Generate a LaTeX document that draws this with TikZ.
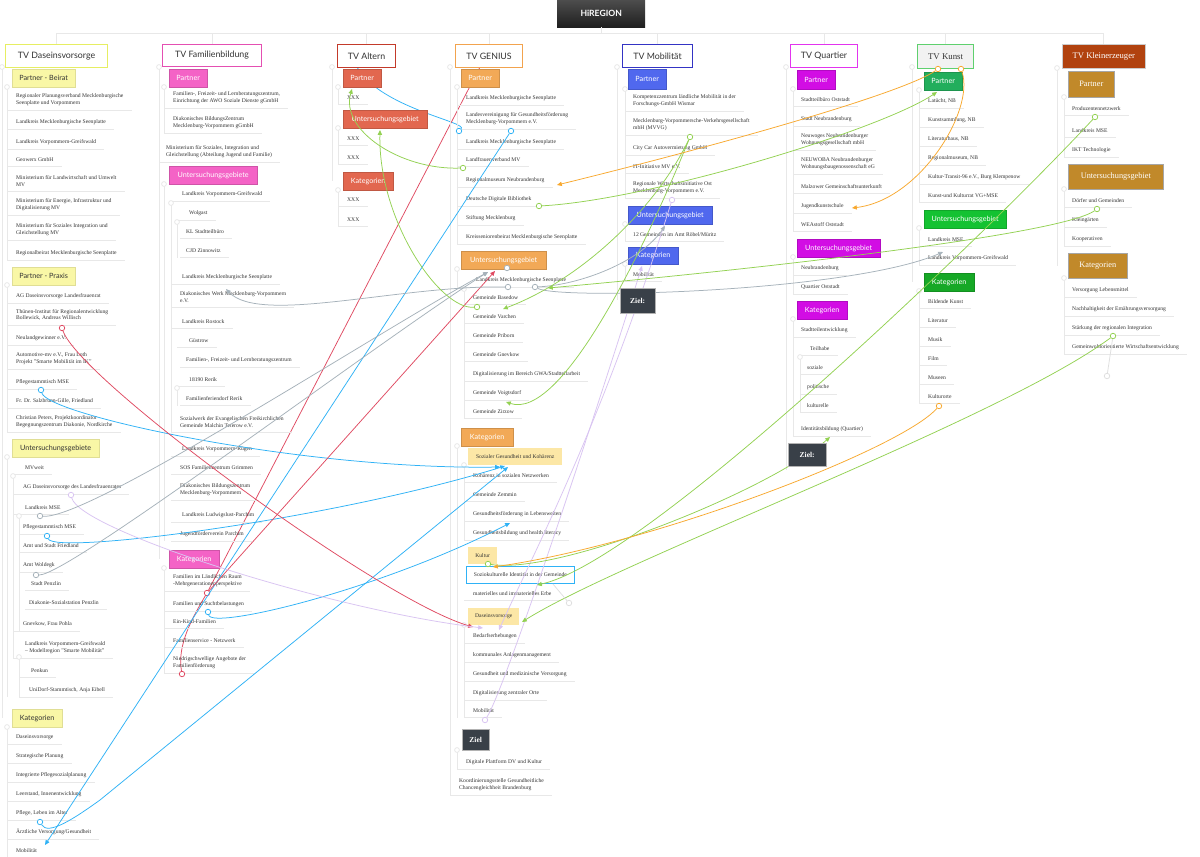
\documentclass[tikz,border=0pt]{standalone}
\usepackage{fontspec}
\setmainfont{Liberation Serif}
\newfontfamily\hdfont{Lato}
\usetikzlibrary{arrows.meta}
\pgfdeclarelayer{bg}
\pgfdeclarelayer{top}
\pgfsetlayers{bg,main,top}
\definecolor{cDas}{HTML}{E6EE62}
\definecolor{cDasF}{HTML}{F9F7A6}
\definecolor{cFam}{HTML}{E44FB2}
\definecolor{cFamF}{HTML}{F463C6}
\definecolor{cAlt}{HTML}{C33A2A}
\definecolor{cAltF}{HTML}{E2674F}
\definecolor{cGen}{HTML}{F2A34E}
\definecolor{cGenF}{HTML}{F2A957}
\definecolor{cMob}{HTML}{3434C4}
\definecolor{cMobF}{HTML}{5068EE}
\definecolor{cQua}{HTML}{E234EE}
\definecolor{cQuaF}{HTML}{D20DE4}
\definecolor{cKun}{HTML}{5FD06E}
\definecolor{cKunP}{HTML}{22AE5C}
\definecolor{cKunU}{HTML}{14C232}
\definecolor{cKunK}{HTML}{16A826}
\definecolor{cKle}{HTML}{B1420F}
\definecolor{cKleF}{HTML}{C1892A}
\definecolor{cHi}{HTML}{FCE7A6}
\definecolor{cZiel}{HTML}{394048}
\definecolor{cTree}{HTML}{E8E8E8}
\definecolor{lBlue}{HTML}{2FB2F6}
\definecolor{lRed}{HTML}{E04A62}
\definecolor{lGreen}{HTML}{93D152}
\definecolor{lGray}{HTML}{A6B2BA}
\definecolor{lOrange}{HTML}{F8A82E}
\definecolor{lPurple}{HTML}{D9C4F2}
\definecolor{txt}{HTML}{333333}
\tikzset{
  tree/.style={draw=cTree, line width=0.8pt},
  itm/.style={anchor=west, inner xsep=0pt, inner ysep=4.6pt, font=\fontsize{5.6}{6.8}\selectfont, text=txt, align=left},
  hdr/.style={draw=#1, line width=1.1pt, fill=white, anchor=north west, font=\hdfont\fontsize{8.8}{10}\selectfont, text=txt, inner sep=0pt},
  sec/.style={fill=#1, draw=#1!85!black, line width=0.4pt, anchor=north west, font=\hdfont\fontsize{7.2}{8}\selectfont, text=white, inner sep=0pt},
  secy/.style={fill=cDasF, draw=cDasF!90!black, line width=0.4pt, anchor=north west, font=\hdfont\fontsize{7.2}{8}\selectfont, text=txt, inner sep=0pt},
  seck/.style={fill=cKleF, draw=gray!70, line width=0.6pt, anchor=north west, font=\fontsize{8.3}{9}\selectfont, text=white, inner sep=0pt},
  hil/.style={fill=cHi, anchor=north west, inner sep=0pt, font=\fontsize{5.6}{6.8}\selectfont, text=txt},
  ziel/.style={fill=cZiel, draw=gray!60, line width=0.4pt, anchor=north west, inner sep=0pt, font=\bfseries\fontsize{7.5}{8}\selectfont, text=white},
  conn/.style={draw=#1, line width=0.75pt},
  arr/.style={-{Triangle[length=4.8pt,width=4.2pt]}},
  cdot/.style={circle, draw=#1, fill=white, line width=0.75pt, inner sep=0pt, minimum size=5.5pt},
}
\newcommand\mmitem[5]{%
  \node[itm] (#1) at (#3,#4) {#5};
  \draw[tree] (#2,0 |- #1.south) -- ([xshift=8pt]#1.south east);%
}
\newcommand\mmsec[3]{%
  \draw[tree] (#1,#2) -- (#1,0 |- #3.south);
  \draw[tree,fill=white] (#1,#2) circle[radius=2.4pt];%
}
\newcommand\mmcol[3]{%
  \draw[tree] (#1,#2) -- (#1,#3);
  \draw[tree,fill=white] (#1,#2) circle[radius=2.4pt];%
}
\begin{document}
\begin{tikzpicture}[x=1pt,y=-1pt]
\begin{pgfonlayer}{bg}
\fill[white] (0,0) rectangle (1200,857);
\end{pgfonlayer}
\useasboundingbox (0,0) rectangle (1200,857);

% ---------------- title and headers
\node[top color=black!70, bottom color=black!88, anchor=north west, inner sep=0pt,
      minimum width=88, minimum height=27, text=white,
      font=\hdfont\bfseries\fontsize{8.6}{10}\selectfont] (hi) at (557,0) {HiREGION};
\node[hdr=cDas, minimum width=102, minimum height=23] (hDas) at (5,44) {TV Daseinsvorsorge};
\node[hdr=cFam, minimum width=99, minimum height=22] (hFam) at (162,44) {TV Familienbildung};
\node[hdr=cAlt, minimum width=58, minimum height=23] (hAlt) at (337,44) {TV Altern};
\node[hdr=cGen, minimum width=67, minimum height=23] (hGen) at (455,44) {TV GENIUS};
\node[hdr=cMob, minimum width=70, minimum height=23] (hMob) at (622,44) {TV Mobilität};
\node[hdr=cQua, minimum width=67, minimum height=23] (hQua) at (790,44) {TV Quartier};
\node[hdr=cKun, fill=black!5, font=\fontsize{8.8}{10}\selectfont, minimum width=56, minimum height=24] (hKun) at (917,44) {TV Kunst};
\node[hdr=gray!40, fill=cKle, text=white, line width=0.6pt, font=\fontsize{8.6}{10}\selectfont, minimum width=83, minimum height=24] (hKle) at (1062,44) {TV Kleinerzeuger};

\draw[tree] (hDas.north |- 0,33) -- (hKle.north |- 0,33);
\draw[tree] (hi.south) -- (hi.south |- 0,33);
\foreach \h in {hDas,hFam,hAlt,hGen,hMob,hQua,hKun,hKle}
  \draw[tree] (\h.north) -- (\h.north |- 0,33);

% ---------------- TV Daseinsvorsorge
\node[secy, minimum width=63, minimum height=18] (dsB) at (12,69) {Partner - Beirat};
\mmitem{d1}{7}{16}{100}{Regionaler Planungsverband Mecklenburgische\\Seenplatte und Vorpommern}
\mmitem{d2}{7}{16}{122}{Landkreis Mecklenburgische Seenplatte}
\mmitem{d3}{7}{16}{142}{Landkreis Vorpommern-Greifswald}
\mmitem{d4}{7}{16}{160}{Geowerx GmbH}
\mmitem{d5}{7}{16}{181}{Ministerium für Landwirtschaft und Umwelt\\MV}
\mmitem{d6}{7}{16}{205}{Ministerium für Energie, Infrastruktur und\\Digitalisierung MV}
\mmitem{d7}{7}{16}{230}{Ministerium für Soziales Integration und\\Gleichstellung MV}
\mmitem{d8}{7}{16}{253}{Regionalbeirat Mecklenburgische Seenplatte}
\mmsec{7}{87}{d8}
\node[secy, minimum width=63, minimum height=18] (dsP) at (12,267) {Partner - Praxis};
\mmitem{d9}{7}{16}{296}{AG Daseinsvorsorge Landesfrauenrat}
\mmitem{d10}{7}{16}{315}{Thünen-Institut für Regionalentwicklung\\Bollewick, Andreas Willisch}
\mmitem{d11}{7}{16}{338}{Neulandgewinner e.V.}
\mmitem{d12}{7}{16}{359}{Automotive-mv e.V., Frau Loth\\Projekt "Smarte Mobilität im IK"}
\mmitem{d13}{7}{16}{382}{Pflegestammtisch MSE}
\mmitem{d14}{7}{16}{401}{Fr. Dr. Salzbrunn-Gille, Friedland}
\mmitem{d15}{7}{16}{422}{Christian Peters, Projektkoordinator\\Begegnungszentrum Diakonie, Nordkirche}
\mmsec{7}{285}{d15}
\node[secy, minimum width=87, minimum height=18] (dsU) at (12,439) {Untersuchungsgebiete};
\mmitem{d16}{13}{25}{468}{MVweit}
\mmitem{d17}{13}{23}{487}{AG Daseinsvorsorge des Landesfrauenrates}
\mmitem{d18}{13}{25}{508}{Landkreis MSE}
\mmitem{d19}{19}{23}{527}{Pflegestammtisch MSE}
\mmitem{d20}{19}{23}{546}{Amt und Stadt Friedland}
\mmitem{d21}{19}{23}{565}{Amt Woldegk}
\mmitem{d22}{25}{31}{584}{Stadt Penzlin}
\mmitem{d23}{25}{29}{603}{Diakonie-Sozialstation Penzlin}
\mmitem{d24}{13}{23}{624}{Gnevkow, Frau Pohla}
\mmitem{d25}{13}{25}{648}{Landkreis Vorpommern-Greifswald\\– Modellregion "Smarte Mobilität"}
\mmitem{d26}{19}{31}{671}{Penkun}
\mmitem{d27}{19}{29}{690}{UniDorf-Stammtisch, Anja Eibell}
\mmsec{7}{457}{d27}
\mmsec{13}{476}{d25}
\mmsec{19}{516}{d24}
\mmsec{19}{657}{d27}
\node[secy, minimum width=50, minimum height=18] (dsK) at (12,709) {Kategorien};
\mmitem{d28}{7}{16}{737}{Daseinsvorsorge}
\mmitem{d29}{7}{16}{756}{Strategische Planung}
\mmitem{d30}{7}{16}{775}{Integrierte Pflegesozialplanung}
\mmitem{d31}{7}{16}{794}{Leerstand, Innenentwicklung}
\mmitem{d32}{7}{16}{813}{Pflege, Leben im Alter}
\mmitem{d33}{7}{16}{832}{Ärztliche Versorgung/Gesundheit}
\mmitem{d34}{7}{16}{851}{Mobilität}
\mmsec{7}{727}{d34}
\mmcol{2}{67}{718}

% ---------------- TV Familienbildung
\node[sec=cFamF, minimum width=38, minimum height=18] (fsP) at (169,69) {Partner};
\mmitem{f1}{164}{173}{98}{Familien-, Freizeit- und Lernberatungszentrum,\\Einrichtung der AWO Soziale Dienste gGmbH}
\mmitem{f2}{164}{173}{123}{Diakonisches BildungsZentrum\\Mecklenburg-Vorpommern gGmbH}
\mmitem{f3}{159}{166}{152}{Ministerium für Soziales, Integration und\\Gleichstellung (Abteilung Jugend und Familie)}
\mmsec{164}{87}{f2}
\node[sec=cFamF, minimum width=88, minimum height=18] (fsU) at (169,166) {Untersuchungsgebiete};
\mmitem{f4}{171}{182}{194}{Landkreis Vorpommern-Greifswald}
\mmitem{f5}{177}{189}{213}{Wolgast}
\mmitem{f6}{180}{186}{232}{KL Stadtteilbüro}
\mmitem{f7}{180}{186}{251}{CJD Zinnowitz}
\mmitem{f8}{171}{182}{277}{Landkreis Mecklenburgische Seenplatte}
\mmitem{f9}{171}{180}{297}{Diakonisches Werk Mecklenburg-Vorpommern\\e.V.}
\mmitem{f10}{171}{182}{322}{Landkreis Rostock}
\mmitem{f11}{177}{189}{341}{Güstrow}
\mmitem{f12}{180}{186}{360}{Familien-, Freizeit- und Lernberatungszentrum}
\mmitem{f13}{177}{189}{380}{18190 Rerik}
\mmitem{f14}{180}{186}{399}{Familienferiendorf Rerik}
\mmitem{f15}{171}{180}{422}{Sozialwerk der Evangelischen Freikirchlichen\\Gemeinde Malchin Teterow e.V.}
\mmitem{f16}{171}{182}{449}{Landkreis Vorpommern-Rügen}
\mmitem{f17}{171}{180}{468}{SOS Familienzentrum Grimmen}
\mmitem{f18}{171}{180}{490}{Diakonisches Bildungszentrum\\Mecklenburg-Vorpommern}
\mmitem{f19}{171}{182}{515}{Landkreis Ludwigslust-Parchim}
\mmitem{f20}{171}{180}{534}{Jugendförderverein Parchim}
\mmsec{164}{184}{f20}
\mmsec{171}{203}{f15}
\mmsec{177}{222}{f7}
\mmsec{177}{388}{f14}
\node[sec=cFamF, minimum width=50, minimum height=18] (fsK) at (169,550) {Kategorien};
\mmitem{f21}{164}{173}{581}{Familien im Ländlichen Raum\\-Mehrgenerationenperspektive}
\mmitem{f22}{164}{173}{604}{Familien und Suchtbelastungen}
\mmitem{f23}{164}{173}{622}{Ein-Kind-Familien}
\mmitem{f24}{164}{173}{641}{Familienservice - Netzwerk}
\mmitem{f25}{164}{173}{663}{Niedrigschwellige Angebote der\\Familienförderung}
\mmsec{164}{568}{f25}
\mmcol{159}{67}{559}

% ---------------- TV Altern
\node[sec=cAltF, minimum width=38, minimum height=18] (asP) at (343,69) {Partner};
\mmitem{a1}{338}{347}{98}{XXX}
\mmsec{338}{87}{a1}
\node[sec=cAltF, minimum width=84, minimum height=18] (asU) at (343,110) {Untersuchungsgebiet};
\mmitem{a2}{338}{347}{139}{XXX}
\mmitem{a3}{338}{347}{158}{XXX}
\mmsec{338}{128}{a3}
\node[sec=cAltF, minimum width=50, minimum height=18] (asK) at (343,172) {Kategorien};
\mmitem{a4}{338}{347}{200}{XXX}
\mmitem{a5}{338}{347}{220}{XXX}
\mmsec{338}{190}{a5}
\mmcol{332}{67}{181}

% ---------------- TV GENIUS
\node[sec=cGenF, minimum width=38, minimum height=18] (gsP) at (461,69) {Partner};
\mmitem{g1}{457}{466}{98}{Landkreis Mecklenburgische Seenplatte}
\mmitem{g2}{457}{466}{119}{Landesvereinigung für Gesundheitsförderung\\Mecklenburg-Vorpommern e.V.}
\mmitem{g3}{457}{466}{142}{Landkreis Mecklenburgische Seenplatte}
\mmitem{g4}{457}{466}{160}{Landfrauenverband MV}
\mmitem{g5}{457}{466}{180}{Regionalmuseum Neubrandenburg}
\mmitem{g6}{457}{466}{199}{Deutsche Digitale Bibliothek}
\mmitem{g7}{457}{466}{218}{Stiftung Mecklenburg}
\mmitem{g8}{457}{466}{237}{Kreisseniorenbeirat Mecklenburgische Seenplatte}
\mmsec{457}{87}{g8}
\node[sec=cGenF, minimum width=85, minimum height=18] (gsU) at (461,251) {Untersuchungsgebiet};
\mmitem{g9}{457}{476}{280}{Landkreis Mecklenburgische Seenplatte}
\mmitem{g10}{464}{473}{298}{Gemeinde Basedow}
\mmitem{g11}{464}{473}{317}{Gemeinde Varchen}
\mmitem{g12}{464}{473}{336}{Gemeinde Priborn}
\mmitem{g13}{464}{473}{355}{Gemeinde Gnevkow}
\mmitem{g14}{464}{473}{374}{Digitalisierung im Bereich GWA/Stadtteilarbeit}
\mmitem{g15}{464}{473}{393}{Gemeinde Voigtsdorf}
\mmitem{g16}{464}{473}{412}{Gemeinde Zirzow}
\mmsec{457}{269}{g9}
\mmsec{464}{289}{g16}
\node[sec=cGenF, minimum width=52, minimum height=18] (gsK) at (461,428) {Kategorien};
\node[hil, minimum width=94, minimum height=17] (h1) at (468,448) {Sozialer Gesundheit und Kohärenz};
\mmitem{g17}{464}{473}{476}{Kohärenz in sozialen Netzwerken}
\mmitem{g18}{464}{473}{495}{Gemeinde Zemmin}
\mmitem{g19}{464}{473}{514}{Gesundheitsförderung in Lebenswelten}
\mmitem{g20}{464}{473}{533}{Gesundheitsbildung und health literacy}
\node[hil, minimum width=29, minimum height=17] (h2) at (468,547) {Kultur};
\node[hil, fill=white, draw=lBlue, line width=0.8pt, minimum width=108, minimum height=17] (h3) at (466,566) {Soziokulturelle Identität in der Gemeinde};
\mmitem{g21}{464}{473}{594}{materielles und immaterielles Erbe}
\node[hil, minimum width=51, minimum height=17] (h4) at (468,608) {Daseinsvorsorge};
\mmitem{g22}{464}{473}{636}{Bedarfserhebungen}
\mmitem{g23}{464}{473}{655}{kommunales Anlagenmanagement}
\mmitem{g24}{464}{473}{674}{Gesundheit und medizinische Versorgung}
\mmitem{g25}{464}{473}{693}{Digitalisierung zentraler Orte}
\mmitem{g26}{464}{473}{711}{Mobilität}
\mmsec{457}{446}{g26}
\mmsec{464}{465}{g20}
\mmsec{464}{625}{g26}
\mmitem{g27}{457}{466}{762}{Digitale Plattform DV und Kultur}
\mmitem{g28}{450}{459}{785}{Koordinierungsstelle Gesundheitliche\\Chancengleichheit Brandenburg}
\mmsec{457}{750}{g27}
\mmcol{450}{67}{795}

% ---------------- TV Mobilität
\node[sec=cMobF, minimum width=38, minimum height=20] (msP) at (628,69) {Partner};
\mmitem{m1}{625}{633}{101}{Kompetenzzentrum ländliche Mobilität in der\\Forschungs-GmbH Wismar}
\mmitem{m2}{625}{633}{125}{Mecklenburg-Vorpommersche-Verkehrsgesellschaft\\mbH (MVVG)}
\mmitem{m3}{625}{633}{148}{City Car Autovermietung GmbH}
\mmitem{m4}{625}{633}{167}{IT-Initiative MV e.V.}
\mmitem{m5}{625}{633}{188}{Regionale Wirtschaftsinitiative Ost\\Mecklenburg-Vorpommern e.V.}
\mmsec{625}{89}{m5}
\node[sec=cMobF, minimum width=84, minimum height=18] (msU) at (628,206) {Untersuchungsgebiet};
\mmitem{m6}{625}{633}{235}{12 Gemeinden im Amt Röbel/Müritz}
\mmsec{625}{224}{m6}
\node[sec=cMobF, minimum width=50, minimum height=17] (msK) at (628,247) {Kategorien};
\mmitem{m7}{625}{633}{275}{Mobilität}
\mmsec{625}{264}{m7}
\mmcol{617}{67}{300}

% ---------------- TV Quartier
\node[sec=cQuaF, minimum width=38, minimum height=19] (qsP) at (797,70) {Partner};
\mmitem{q1}{793}{801}{100}{Stadtteilbüro Oststadt}
\mmitem{q2}{793}{801}{119}{Stadt Neubrandenburg}
\mmitem{q3}{793}{801}{140}{Neuwoges Neubrandenburger\\Wohnungsgesellschaft mbH}
\mmitem{q4}{793}{801}{164}{NEUWOBA Neubrandenburger\\Wohnungsbaugenossenschaft eG}
\mmitem{q5}{793}{801}{187}{Malzower Gemeinschaftsunterkunft}
\mmitem{q6}{793}{801}{206}{Jugendkunstschule}
\mmitem{q7}{793}{801}{225}{WEAstoff Oststadt}
\mmsec{793}{89}{q7}
\node[sec=cQuaF, minimum width=83, minimum height=18] (qsU) at (797,239) {Untersuchungsgebiet};
\mmitem{q8}{793}{801}{268}{Neubrandenburg}
\mmitem{q9}{793}{801}{287}{Quartier Oststadt}
\mmsec{793}{257}{q9}
\node[sec=cQuaF, minimum width=50, minimum height=18] (qsK) at (797,301) {Kategorien};
\mmitem{q10}{793}{801}{330}{Stadtteilentwicklung}
\mmitem{q11}{800}{810}{349}{Teilhabe}
\mmitem{q12}{800}{807}{368}{soziale}
\mmitem{q13}{800}{807}{387}{politische}
\mmitem{q14}{800}{807}{406}{kulturelle}
\mmitem{q15}{793}{801}{429}{Identitätsbildung (Quartier)}
\mmsec{793}{319}{q15}
\mmsec{800}{357}{q14}
\mmcol{786}{67}{470}

% ---------------- TV Kunst
\node[sec=cKunP, minimum width=38, minimum height=18] (ksP) at (924,72) {Partner};
\mmitem{k1}{919}{928}{101}{Latücht, NB}
\mmitem{k2}{919}{928}{120}{Kunstsammlung, NB}
\mmitem{k3}{919}{928}{139}{Literaturhaus, NB}
\mmitem{k4}{919}{928}{158}{Regionalmuseum, NB}
\mmitem{k5}{919}{928}{177}{Kultur-Transit-96 e.V., Burg Klempenow}
\mmitem{k6}{919}{928}{196}{Kunst-und Kulturrat VG+MSE}
\mmsec{919}{90}{k6}
\node[sec=cKunU, minimum width=82, minimum height=18] (ksU) at (924,210) {Untersuchungsgebiet};
\mmitem{k7}{919}{928}{240}{Landkreis MSE}
\mmitem{k8}{919}{928}{258}{Landkreis Vorpommern-Greifswald}
\mmsec{919}{228}{k8}
\node[sec=cKunK, minimum width=50, minimum height=18] (ksK) at (924,273) {Kategorien};
\mmitem{k9}{919}{928}{302}{Bildende Kunst}
\mmitem{k10}{919}{928}{321}{Literatur}
\mmitem{k11}{919}{928}{340}{Musik}
\mmitem{k12}{919}{928}{359}{Film}
\mmitem{k13}{919}{928}{378}{Museen}
\mmitem{k14}{919}{928}{397}{Kulturorte}
\mmsec{919}{291}{k14}
\mmcol{912}{67}{282}

% ---------------- TV Kleinerzeuger
\node[seck, minimum width=46, minimum height=26] (esP) at (1068,71) {Partner};
\mmitem{e1}{1064}{1072}{109}{Produzentennetzwerk}
\mmitem{e2}{1064}{1072}{131}{Landkreis MSE}
\mmitem{e3}{1064}{1072}{150}{IKT Technologie}
\mmsec{1064}{97}{e3}
\node[seck, minimum width=95, minimum height=25] (esU) at (1068,164) {Untersuchungsgebiet};
\mmitem{e4}{1064}{1072}{201}{Dörfer und Gemeinden}
\mmitem{e5}{1064}{1072}{220}{Kleingärten}
\mmitem{e6}{1064}{1072}{239}{Kooperativen}
\mmsec{1064}{189}{e6}
\node[seck, minimum width=59, minimum height=25] (esK) at (1068,253) {Kategorien};
\mmitem{e7}{1064}{1072}{290}{Versorgung Lebensmittel}
\mmitem{e8}{1064}{1072}{309}{Nachhaltigkeit der Ernährungsversorgung}
\mmitem{e9}{1064}{1072}{328}{Stärkung der regionalen Integration}
\mmitem{e10}{1064}{1072}{347}{Gemeinwohlorientierte Wirtschaftsentwicklung}
\mmsec{1064}{278}{e10}
\mmcol{1057}{68}{266}

% ---------------- connector start dots
\node[cdot=lBlue] (cB1) at (459,131) {};
\node[cdot=lBlue] (cB2) at (511,131) {};
\node[cdot=lBlue] (cB3) at (41,390) {};
\node[cdot=lBlue] (cB4) at (47,536) {};
\node[cdot=lBlue] (cB5) at (208,612) {};
\node[cdot=lBlue] (cB6) at (40,822) {};
\node[cdot=lRed] (cR1) at (182,674) {};
\node[cdot=lRed] (cR2) at (207,593) {};
\node[cdot=lRed] (cR3) at (62,328) {};
\node[cdot=lPurple] (cP1) at (71,495) {};
\node[cdot=lPurple] (cP2) at (485,720) {};
\node[cdot=lPurple] (cP3) at (672,200) {};
\node[cdot=lGray] (cG1) at (40,516) {};
\node[cdot=lGray] (cG2) at (36,575) {};
\node[cdot=lGray] (cG3) at (508,287) {};
\node[cdot=lGray] (cG4) at (535,287) {};
\node[cdot=lGray] (cG6) at (507,268) {};
\node[cdot=lGreen] (cGr1) at (463,168) {};
\node[cdot=lGreen] (cGr2) at (477,307) {};
\node[cdot=lGreen] (cGr3) at (539,206) {};
\node[cdot=lGreen] (cGm) at (690,137) {};
\node[cdot=lGreen] (cGk) at (488,564) {};
\node[cdot=lGreen] (cGp) at (1095,117) {};
\node[cdot=lGreen] (cGs) at (1113,336) {};
\node[cdot=lGreen] (cGd) at (1097,209) {};
\node[cdot=lOrange] (cO1) at (938,69) {};
\node[cdot=lOrange] (cO2) at (961,69) {};
\node[cdot=lOrange] (cO3) at (939,406) {};
\node[cdot=gray!25] (cX1) at (1107,376) {};
\node[cdot=gray!25] (cX2) at (569,603) {};

% ---------------- connector end points
\coordinate (tB1) at (357,67);
\coordinate (tB2) at (45,845);
\coordinate (tB3) at (500,467);
\coordinate (tB4) at (505,466);
\coordinate (tB5) at (510,523);
\coordinate (tB6) at (508,467);
\coordinate (tR1) at (480,67);
\coordinate (tR2) at (495,271);
\coordinate (tR3) at (473,627);
\coordinate (tP1) at (483,628);
\coordinate (tP2) at (642,266);
\coordinate (tP3) at (499,630);
\coordinate (tG1) at (488,272);
\coordinate (tG3) at (226,289);
\coordinate (tG4) at (943,252);
\coordinate (tG5) at (665,226);
\coordinate (tGr1) at (352,89);
\coordinate (tGr2) at (380,130);
\coordinate (tGr3) at (937,92);
\coordinate (tGm1) at (503,309);
\coordinate (tGm2) at (506,402);
\coordinate (tGk) at (830,437);
\coordinate (tGp) at (537,585);
\coordinate (tGs) at (522,622);
\coordinate (tGd) at (548,288);
\coordinate (tO1) at (557,185);
\coordinate (tO2) at (852,208);
\coordinate (tO3) at (493,567);

% ---------------- connectors hidden under boxes
\begin{pgfonlayer}{bg}
\draw[conn=lBlue] (cB1) .. controls (468,122) and (380,108) .. (tB1);
\draw[conn=lRed] (cR1) .. controls (177,645) and (192,618) .. (cR2.center) -- (tR1);
\end{pgfonlayer}

% ---------------- connectors
\draw[conn=lBlue, arr] (cB2) -- (tB2);
\draw[conn=lBlue, arr] (cB3) .. controls (48,415) and (300,470) .. (tB3);
\draw[conn=lBlue, arr] (cB4) .. controls (55,555) and (330,520) .. (tB4);
\draw[conn=lBlue, arr] (cB5) .. controls (212,630) and (380,590) .. (tB5);
\draw[conn=lBlue, arr] (cB6) .. controls (48,836) and (75,818) .. (100,800) -- (tB6);
\draw[conn=lRed, arr] (cR2) -- (tR2);
\draw[conn=lRed, arr] (cR3) .. controls (80,380) and (380,600) .. (tR3);
\draw[conn=lPurple, arr] (cP1) .. controls (80,530) and (330,610) .. (tP1);
\draw[conn=lPurple, arr] (cP2) .. controls (505,690) and (600,400) .. (tP2);
\draw[conn=lPurple, arr] (cP3) .. controls (600,430) and (530,560) .. (tP3);
\draw[conn=lGray, arr] (cG1) .. controls (90,520) and (380,330) .. (tG1);
\draw[conn=lGray, arr] (cG2) .. controls (70,575) and (380,340) .. (tG1);
\draw[conn=lGray, arr] (cG3) .. controls (400,285) and (260,325) .. (tG3);
\draw[conn=lGray, arr] (cG4) .. controls (560,300) and (850,292) .. (tG4);
\draw[conn=lGray, arr] (cG4) .. controls (580,285) and (640,262) .. (tG5);
\draw[conn=lGreen, arr] (cGr1) .. controls (400,170) and (340,130) .. (tGr1);
\draw[conn=lGreen, arr] (cGr2) .. controls (440,310) and (378,220) .. (tGr2);
\draw[conn=lGreen, arr] (cGr3) .. controls (650,200) and (880,130) .. (tGr3);
\draw[conn=lGreen, arr] (cGm) .. controls (655,210) and (580,280) .. (tGm1);
\draw[conn=lGreen, arr] (cGm) .. controls (640,260) and (560,420) .. (tGm2);
\draw[conn=lGreen, arr] (cGk) .. controls (560,575) and (770,490) .. (tGk);
\draw[conn=lGreen, arr] (cGp) .. controls (1000,220) and (650,560) .. (tGp);
\draw[conn=lGreen, arr] (cGs) .. controls (1000,420) and (620,560) .. (tGs);
\draw[conn=lGreen, arr] (cGd) .. controls (1060,235) and (750,270) .. (tGd);
\draw[conn=lOrange, arr] (cO1) .. controls (900,95) and (700,150) .. (tO1);
\draw[conn=lOrange, arr] (cO2) .. controls (975,110) and (920,200) .. (tO2);
\draw[conn=lOrange, arr] (cO3) .. controls (900,450) and (650,545) .. (tO3);
\draw[conn=gray!25] (cGs) -- (cX1);
\draw[conn=gray!25] ([xshift=-22pt]h3.south east) .. controls (558,590) .. (cX2);

% ---------------- Ziel boxes on top
\begin{pgfonlayer}{top}
\node[ziel, minimum width=27, minimum height=21] (zGen) at (462,729) {Ziel};
\node[ziel, minimum width=35, minimum height=25] (zMob) at (620,288) {Ziel:};
\node[ziel, minimum width=38, minimum height=23] (zQua) at (788,443) {Ziel:};
\end{pgfonlayer}
\end{tikzpicture}
\end{document}
